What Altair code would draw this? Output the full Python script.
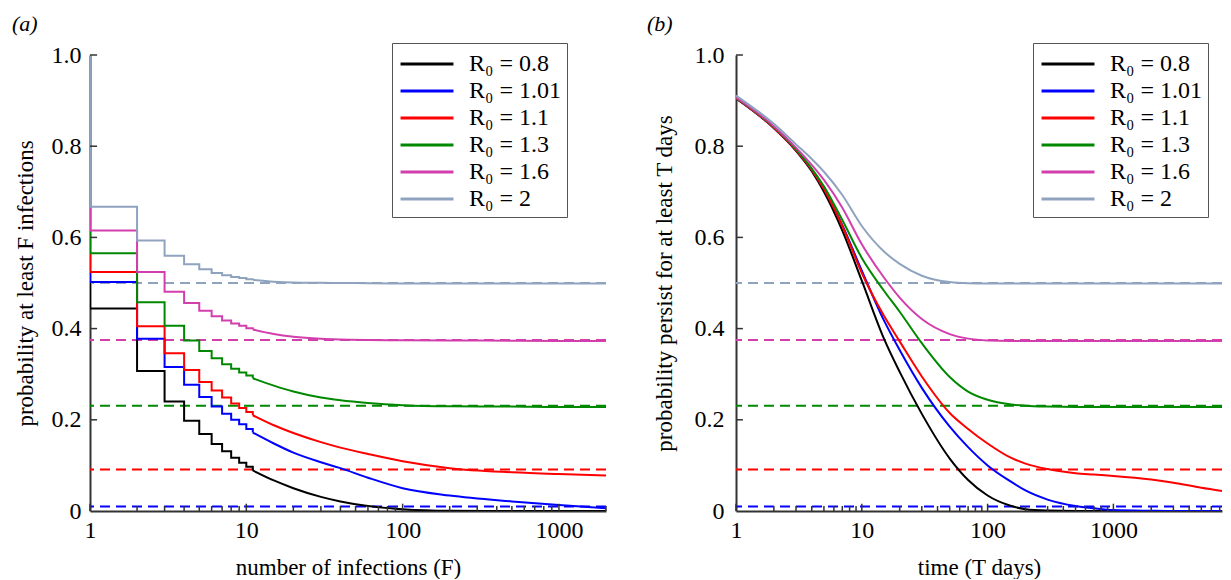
import altair as alt
import pandas as pd

FONT = "Liberation Serif"
SERIES = ["R₀ = 0.8", "R₀ = 1.01", "R₀ = 1.1", "R₀ = 1.3", "R₀ = 1.6", "R₀ = 2"]
COLORS = ["#000000", "#0000ff", "#ff0000", "#008800", "#d23fad", "#8fa3bf"]

# dashed asymptotes (1 - 1/R0)
ASYM_SERIES = ["R₀ = 1.01", "R₀ = 1.1", "R₀ = 1.3", "R₀ = 1.6", "R₀ = 2"]
ASYM = [0.0099, 0.0909, 0.2308, 0.375, 0.5]

# ---- panel (a): probability at least F infections (stepped part)
F_STEP = [1, 1, 2, 3, 4, 5, 6, 7, 8, 9, 10, 11]
A_STEP_08 = [1.0, 0.444, 0.307, 0.240, 0.198, 0.169, 0.147, 0.131, 0.117, 0.106, 0.097, 0.089]
A_STEP_101 = [1.0, 0.502, 0.378, 0.316, 0.277, 0.250, 0.229, 0.213, 0.200, 0.190, 0.180, 0.172]
A_STEP_11 = [1.0, 0.524, 0.405, 0.346, 0.309, 0.283, 0.264, 0.249, 0.236, 0.226, 0.217, 0.210]
A_STEP_13 = [1.0, 0.565, 0.458, 0.406, 0.374, 0.351, 0.335, 0.322, 0.312, 0.304, 0.297, 0.291]
A_STEP_16 = [1.0, 0.615, 0.524, 0.481, 0.456, 0.439, 0.427, 0.418, 0.411, 0.406, 0.401, 0.398]
A_STEP_2 = [1.0, 0.667, 0.593, 0.560, 0.541, 0.530, 0.522, 0.517, 0.513, 0.511, 0.508, 0.507]

# panel (a) smooth tail
F_TAIL = [11, 15, 20, 30, 40, 60, 100, 200, 500, 1000, 2000]
A_TAIL_08 = [0.089, 0.067, 0.050, 0.031, 0.021, 0.011, 0.004, 0.0005, 0.0, 0.0, 0.0]
A_TAIL_101 = [0.172, 0.148, 0.128, 0.107, 0.094, 0.073, 0.050, 0.034, 0.021, 0.013, 0.006]
A_TAIL_11 = [0.210, 0.188, 0.171, 0.151, 0.139, 0.125, 0.109, 0.094, 0.085, 0.081, 0.078]
A_TAIL_13 = [0.291, 0.275, 0.262, 0.249, 0.243, 0.237, 0.232, 0.2295, 0.229, 0.228, 0.228]
A_TAIL_16 = [0.398, 0.388, 0.382, 0.3775, 0.376, 0.375, 0.3745, 0.374, 0.3735, 0.373, 0.373]
A_TAIL_2 = [0.507, 0.503, 0.501, 0.5003, 0.5, 0.4995, 0.499, 0.499, 0.499, 0.499, 0.499]

# ---- panel (b): probability persist for at least T days
T_B = [1, 2, 3, 4, 5, 7, 10, 15, 20, 30, 50, 70, 100, 150, 200, 300, 500, 700, 1000, 2000, 3000, 5000, 7300]
B_08 = [0.905, 0.840, 0.790, 0.745, 0.700, 0.615, 0.505, 0.378, 0.305, 0.213, 0.115, 0.068, 0.034, 0.012, 0.004, 0.001, 0.0, 0.0, 0.0, 0.0, 0.0, 0.0, 0.0]
B_101 = [0.905, 0.840, 0.791, 0.748, 0.706, 0.627, 0.527, 0.418, 0.353, 0.270, 0.185, 0.140, 0.100, 0.066, 0.045, 0.025, 0.011, 0.006, 0.002, 0.0005, 0.0, 0.0, 0.0]
B_11 = [0.905, 0.840, 0.791, 0.748, 0.706, 0.625, 0.522, 0.428, 0.372, 0.295, 0.215, 0.180, 0.148, 0.118, 0.104, 0.092, 0.083, 0.080, 0.077, 0.069, 0.062, 0.051, 0.044]
B_13 = [0.906, 0.842, 0.793, 0.751, 0.712, 0.638, 0.555, 0.483, 0.437, 0.368, 0.294, 0.262, 0.244, 0.234, 0.231, 0.229, 0.228, 0.228, 0.228, 0.228, 0.228, 0.228, 0.228]
B_16 = [0.907, 0.844, 0.797, 0.759, 0.726, 0.665, 0.585, 0.512, 0.468, 0.421, 0.388, 0.378, 0.374, 0.373, 0.373, 0.373, 0.373, 0.373, 0.373, 0.373, 0.373, 0.373, 0.373]
B_2 = [0.911, 0.849, 0.804, 0.772, 0.744, 0.693, 0.625, 0.569, 0.542, 0.516, 0.502, 0.4995, 0.499, 0.499, 0.499, 0.499, 0.499, 0.499, 0.499, 0.499, 0.499, 0.499, 0.499]

# axis tick positions
X_MAJOR = [1, 10, 100, 1000]
X_MINOR_A = [2, 3, 4, 5, 6, 7, 8, 9, 20, 30, 40, 50, 60, 70, 80, 90,
             200, 300, 400, 500, 600, 700, 800, 900, 2000]
X_MINOR_B = X_MINOR_A + [3000, 4000, 5000, 6000, 7000]
Y_TICKS = [0.2, 0.4, 0.6, 0.8, 1.0]
Y_VALUES = [0, 0.2, 0.4, 0.6, 0.8, 1.0]


def long_df(xs, lists):
    rows = []
    for s, vals in zip(SERIES, lists):
        for i, (x, v) in enumerate(zip(xs, vals)):
            rows.append({"x": x, "v": v, "s": s, "i": i})
    return pd.DataFrame(rows)


cscale = alt.Scale(domain=SERIES, range=COLORS)
AXIS_COLOR = "#333333"


def make_panel(label, label_dx, xmax, width, xtitle, ytitle, step_df, smooth_df,
               minor, ytick_x2, legend_x, ylabel_pad, ytitle_pad):
    xscale = alt.Scale(type="log", domain=[1, xmax], nice=False)
    yscale = alt.Scale(domain=[0, 1], nice=False)
    xaxis = alt.Axis(values=X_MAJOR, format="d", ticks=False, grid=False,
                     domainColor=AXIS_COLOR, domainWidth=2, labelFont=FONT,
                     labelFontSize=24, labelColor="black", labelPadding=7,
                     titleFont=FONT, titleFontSize=23, titleFontWeight="normal",
                     titleColor="black", titlePadding=14, labelFlush=False)
    yaxis = alt.Axis(values=Y_VALUES, ticks=False, grid=False,
                     labelExpr="datum.value == 0 ? '0' : format(datum.value, '.1f')",
                     domainColor=AXIS_COLOR, domainWidth=2, labelFont=FONT,
                     labelFontSize=24, labelColor="black", labelPadding=ylabel_pad,
                     titleFont=FONT, titleFontSize=23, titleFontWeight="normal",
                     titleColor="black", titlePadding=ytitle_pad)
    legend = alt.Legend(title=None, orient="none", legendX=legend_x, legendY=-12,
                        symbolType="M-2,0H2", symbolStrokeWidth=3, symbolSize=700,
                        symbolDash=[100, 0], symbolOffset=14,
                        labelFont=FONT, labelFontSize=24, labelColor="black",
                        strokeColor="#555555", fillColor="white", padding=6,
                        rowPadding=0, labelOffset=27, labelLimit=400)

    def X(field):
        return alt.X(field, type="quantitative", scale=xscale, axis=xaxis, title=xtitle)

    def Y(field):
        return alt.Y(field, type="quantitative", scale=yscale, axis=yaxis, title=ytitle)

    color = alt.Color("s:N", scale=cscale, legend=legend)

    asym_df = pd.DataFrame({"s": ASYM_SERIES, "v": ASYM})
    dashed = alt.Chart(asym_df).mark_rule(strokeDash=[10, 6], strokeWidth=2).encode(
        y=Y("v"), color=color)

    layers = [dashed]
    if step_df is not None:
        layers.append(alt.Chart(step_df).mark_line(
            interpolate="step-after", strokeWidth=2, clip=True).encode(
            x=X("x"), y=Y("v"), color=color, order=alt.Order("i:Q")))
    layers.append(alt.Chart(smooth_df).mark_line(
        interpolate="monotone", strokeWidth=2, clip=True).encode(
        x=X("x"), y=Y("v"), color=color, order=alt.Order("i:Q")))

    major_df = pd.DataFrame({"x": X_MAJOR, "y0": 0.0, "y1": 0.016})
    minor_df = pd.DataFrame({"x": minor, "y0": 0.0, "y1": 0.011})
    ytick_df = pd.DataFrame({"v": Y_TICKS, "x0": 1.0, "x1": ytick_x2})
    layers.append(alt.Chart(major_df).mark_rule(color=AXIS_COLOR, strokeWidth=1.5).encode(
        x=X("x"), y=Y("y0"), y2="y1"))
    layers.append(alt.Chart(minor_df).mark_rule(color=AXIS_COLOR, strokeWidth=1.5).encode(
        x=X("x"), y=Y("y0"), y2="y1"))
    layers.append(alt.Chart(ytick_df).mark_rule(color=AXIS_COLOR, strokeWidth=1.5).encode(
        y=Y("v"), x=X("x0"), x2="x1"))

    return alt.layer(*layers).properties(
        width=width, height=456,
        title=alt.TitleParams(label, anchor="start", dx=label_dx, font=FONT,
                              fontSize=22, fontStyle="italic", fontWeight="normal",
                              color="black", offset=7))


step_a = long_df(F_STEP, [A_STEP_08, A_STEP_101, A_STEP_11, A_STEP_13, A_STEP_16, A_STEP_2])
tail_a = long_df(F_TAIL, [A_TAIL_08, A_TAIL_101, A_TAIL_11, A_TAIL_13, A_TAIL_16, A_TAIL_2])
curves_b = long_df(T_B, [B_08, B_101, B_11, B_13, B_16, B_2])

panel_a = make_panel("(a)", -2, 2000, 516, "number of infections (F)",
                     "probability at least F infections", step_a, tail_a,
                     X_MINOR_A, 1.11, 302, 9, 14)
panel_b = make_panel("(b)", -6, 7300, 486, "time (T days)",
                     "probability persist for at least T days", None, curves_b,
                     X_MINOR_B, 1.135, 297, 12, 18)

chart = alt.hconcat(panel_a, panel_b, spacing=40).resolve_scale(
    color="independent").resolve_legend(color="independent").configure_view(
    stroke=None).properties(padding={"left": 4, "top": 4, "right": 0, "bottom": 0})

chart.save("out.html", embed_options={"renderer": "svg", "actions": False})
